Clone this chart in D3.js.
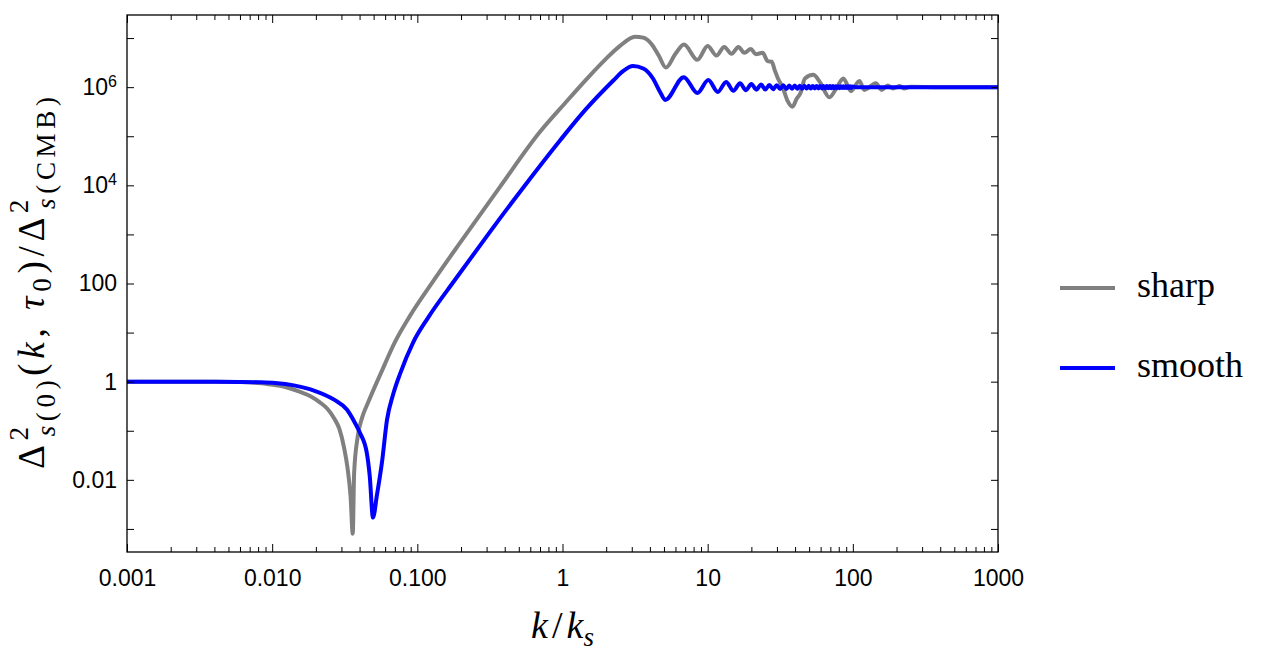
<!DOCTYPE html>
<html>
<head>
<meta charset="utf-8">
<script src="https://cdn.jsdelivr.net/npm/d3@7"></script>
<style>
body { margin: 0; background: #fff; }
.axis .domain { display: none; }
.axis line { stroke: #000; stroke-width: 1; }
.axis text { font-family: "Liberation Sans", Arial, sans-serif; font-size: 23px; fill: #000; }
.serif { font-family: "Liberation Serif", "Times New Roman", serif; fill: #000; }
</style>
</head>
<body>
<div class="app"></div>
<script>
'use strict'

var width = 1264;
var height = 662;
var plot = {left: 127, right: 998, top: 15, bottom: 552};

// sharp transition
var kSharp = [0.001, 0.002, 0.004, 0.006, 0.008, 0.0097, 0.0125, 0.0156, 0.0185, 0.0213,
	0.024, 0.0267, 0.029, 0.0313, 0.033, 0.0347, 0.0359, 0.0367, 0.0388, 0.0416,
	0.0457, 0.0562, 0.0702, 0.089, 0.1262, 0.1967, 0.371, 0.70, 1.04, 1.45,
	1.96, 2.49, 3.16, 3.6, 4.1, 4.6, 5.16, 6.0, 6.87, 8.5,
	10.0, 11.5, 13.0, 14.6, 16.3, 17.9, 19.8, 21.5, 23.9, 25.9,
	27.6, 29.0, 30.5, 32.9, 35.6, 38.4, 41.0, 43.5, 46.8, 53.4,
	59.5, 69, 77, 86, 97, 111, 120, 144, 158, 174,
	189, 211, 225, 250, 400, 1000];
var sharpVals = [1.0, 1.0, 0.995, 0.98, 0.94, 0.88, 0.77, 0.62, 0.50, 0.38,
	0.28, 0.18, 0.11, 0.045, 0.018, 0.0045, 0.0008, 0.0138, 0.075, 0.183,
	0.37, 1.51, 6.47, 21.9, 103, 673, 9310, 1.23e5, 4.7e5, 1.41e6,
	3.6e6, 6.95e6, 1.07e7, 1.02e7, 7.6e6, 4.4e6, 2.5e6, 4.8e6, 7.4e6, 3.6e6,
	6.9e6, 4.4e6, 6.6e6, 4.8e6, 6.6e6, 5.0e6, 6.0e6, 4.7e6, 5.0e6, 3.4e6,
	3.3e6, 2.2e6, 1.5e6, 9.8e5, 5.2e5, 4.0e5, 5.8e5, 7.5e5, 1.5e6, 1.78e6,
	1.25e6, 6.2e5, 9.5e5, 1.5e6, 8.3e5, 1.33e6, 8.8e5, 1.2e6, 8.8e5, 1.08e6,
	9.4e5, 1.05e6, 9.4e5, 1.02e6, 1.0e6, 1.0e6];

// smooth transition
var kSmooth = [0.001, 0.002, 0.004, 0.006, 0.008, 0.0105, 0.0141, 0.0194, 0.0267, 0.0327,
	0.0365, 0.0403, 0.0449, 0.047, 0.0495, 0.0527, 0.0571, 0.0618, 0.068, 0.076,
	0.0933, 0.1184, 0.1818, 0.3166, 0.578, 0.961, 1.43, 2.23, 2.6, 3.06,
	3.6, 4.2, 4.7, 5.1, 6.85, 8.5, 10.1, 11.75, 13.4, 15.05,
	16.7, 18.35, 20.0, 21.65, 23.3, 24.95, 26.6, 28.25, 29.9, 31.55,
	33.2, 34.85, 36.5, 38.15, 39.8, 41.45, 43.1, 44.75, 46.4, 48.05,
	49.7, 51.35, 53.0, 54.65, 56.3, 57.95, 59.6, 61.25, 62.9, 64.55,
	66.2, 67.85, 69.5, 71.15, 72.8, 74.45, 76.1, 77.75, 79.4, 81.05,
	82.7, 84.35, 86.0, 87.65, 89.3, 90.95, 92.6, 94.25, 95.9, 97.55,
	99.2, 105, 1000];
var smoothVals = [1.0, 1.0, 0.997, 0.99, 0.975, 0.94, 0.84, 0.66, 0.43, 0.27,
	0.16, 0.09, 0.035, 0.012, 0.0017, 0.00495, 0.023, 0.167, 0.54, 1.44,
	6.2, 20, 119, 1130, 1.2e4, 8.2e4, 3.4e5, 1.35e6, 2.1e6, 2.7e6,
	2.4e6, 1.5e6, 8.0e5, 5.5e5, 1.6e6, 7.6e5, 1.4e6, 8.0e5, 1.28e6, 8.4e5,
	1.2e6, 8.7e5, 1.16e6, 8.9e5, 1.13e6, 9.0e5, 1.11e6, 9.1e5, 1.10e6, 9.15e5,
	1.09e6, 9.2e5, 1.08e6, 9.25e5, 1.08e6, 9.3e5, 1.07e6, 9.3e5, 1.07e6, 9.35e5,
	1.07e6, 9.35e5, 1.06e6, 9.4e5, 1.06e6, 9.4e5, 1.06e6, 9.4e5, 1.06e6, 9.4e5,
	1.05e6, 9.45e5, 1.05e6, 9.5e5, 1.05e6, 9.5e5, 1.045e6, 9.55e5, 1.045e6, 9.55e5,
	1.04e6, 9.6e5, 1.04e6, 9.6e5, 1.04e6, 9.6e5, 1.04e6, 9.6e5, 1.04e6, 9.65e5,
	1.035e6, 1.0e6, 1.0e6];

var seriesNames = ["sharp", "smooth"];
var seriesColors = ["#808080", "#0000ff"];

var xTickValues = [0.001, 0.01, 0.1, 1, 10, 100, 1000];
var xTickLabels = ["0.001", "0.010", "0.100", "1", "10", "100", "1000"];
var yTickValues = [1e-3, 1e-2, 1e-1, 1, 10, 100, 1e3, 1e4, 1e5, 1e6, 1e7];
var yTickLabels = ["", "0.01", "", "1", "", "100", "", "10^4", "", "10^6", ""];

var svg = d3.select(".app")
	.append("svg")
	.attr("width", width)
	.attr("height", height);

var x = d3.scaleLog()
	.domain([1e-3, 1e3])
	.range([plot.left, plot.right]);

var y = d3.scaleLog()
	.domain([Math.pow(10, -3.47), Math.pow(10, 7.47)])
	.range([plot.bottom, plot.top]);

// minor ticks 2..9 in every decade of x
var xMinor = [];
for (var e = -3; e < 3; e++)
	for (var m = 2; m < 10; m++)
		xMinor.push(m * Math.pow(10, e));

var plotW = plot.right - plot.left;
var plotH = plot.bottom - plot.top;

// clip for the curves
svg.append("clipPath").attr("id", "clip")
	.append("rect")
	.attr("x", plot.left).attr("y", plot.top)
	.attr("width", plotW).attr("height", plotH);

var line = d3.line()
	.curve(d3.curveMonotoneX)
	.x(function(d) { return x(d[0]); })
	.y(function(d) { return y(d[1]); });

var sharpData = kSharp.map(function(k, i) { return [k, sharpVals[i]]; });
var smoothData = kSmooth.map(function(k, i) { return [k, smoothVals[i]]; });

var curves = svg.append("g").attr("clip-path", "url(#clip)");
curves.append("path")
	.attr("d", line(sharpData))
	.attr("fill", "none")
	.attr("stroke", seriesColors[0])
	.attr("stroke-width", 4);
curves.append("path")
	.attr("d", line(smoothData))
	.attr("fill", "none")
	.attr("stroke", seriesColors[1])
	.attr("stroke-width", 4);

// bottom axis
svg.append("g")
	.attr("class", "axis")
	.attr("transform", "translate(0," + plot.bottom + ")")
	.call(d3.axisBottom(x).tickValues(xTickValues).tickSize(-8).tickPadding(18)
		.tickFormat(function(d, i) { return xTickLabels[i]; }));
svg.append("g")
	.attr("class", "axis")
	.attr("transform", "translate(0," + plot.bottom + ")")
	.call(d3.axisBottom(x).tickValues(xMinor).tickSize(-5).tickFormat(""));

// top axis
svg.append("g")
	.attr("class", "axis")
	.attr("transform", "translate(0," + plot.top + ")")
	.call(d3.axisTop(x).tickValues(xTickValues).tickSize(-8).tickFormat(""));
svg.append("g")
	.attr("class", "axis")
	.attr("transform", "translate(0," + plot.top + ")")
	.call(d3.axisTop(x).tickValues(xMinor).tickSize(-5).tickFormat(""));

// left axis
var yAxisG = svg.append("g")
	.attr("class", "axis")
	.attr("transform", "translate(" + plot.left + ",0)")
	.call(d3.axisLeft(y).tickValues(yTickValues).tickSize(-7).tickPadding(10)
		.tickFormat(function(d, i) { return yTickLabels[i]; }));

// superscripts for 10^n
yAxisG.selectAll(".tick text").each(function() {
	var t = d3.select(this);
	var s = t.text();
	if (s.indexOf("^") > -1) {
		var parts = s.split("^");
		t.text(parts[0]);
		t.append("tspan")
			.attr("dy", "-0.5em")
			.style("font-size", "16px")
			.text(parts[1]);
	}
});

// right axis
svg.append("g")
	.attr("class", "axis")
	.attr("transform", "translate(" + plot.right + ",0)")
	.call(d3.axisRight(y).tickValues(yTickValues).tickSize(-7).tickFormat(""));

// frame
svg.append("rect")
	.attr("x", plot.left).attr("y", plot.top)
	.attr("width", plotW).attr("height", plotH)
	.attr("fill", "none")
	.attr("stroke", "#000")
	.attr("stroke-width", 1.3);

// x label  k/k_s
var xl = svg.append("text")
	.attr("class", "serif")
	.attr("x", (plot.left + plot.right) / 2)
	.attr("y", 638)
	.attr("text-anchor", "middle")
	.style("font-size", "38px");
xl.append("tspan").style("font-style", "italic").text("k");
xl.append("tspan").attr("dx", 4).text("/");
xl.append("tspan").attr("dx", 4).style("font-style", "italic").text("k");
xl.append("tspan").attr("dy", 8).style("font-size", "27px").style("font-style", "italic").text("s");

// y label
var yl = svg.append("text")
	.attr("class", "serif")
	.attr("transform", "translate(44,283) rotate(-90)")
	.attr("text-anchor", "middle")
	.attr("textLength", 372)
	.attr("lengthAdjust", "spacing")
	.style("font-size", "37px");
yl.append("tspan").text("\u0394");
yl.append("tspan").attr("dy", -16).style("font-size", "27px").text("2");
yl.append("tspan").attr("dx", -14).attr("dy", 27).style("font-size", "27px")
	.html('<tspan font-style="italic">s</tspan>(0)');
yl.append("tspan").attr("dy", -11).text("(");
yl.append("tspan").style("font-style", "italic").text("k");
yl.append("tspan").text(", ");
yl.append("tspan").style("font-style", "italic").text("\u03C4");
yl.append("tspan").attr("dy", 7).style("font-size", "27px").text("0");
yl.append("tspan").attr("dy", -7).text(")/\u0394");
yl.append("tspan").attr("dy", -16).style("font-size", "27px").text("2");
yl.append("tspan").attr("dx", -14).attr("dy", 27).style("font-size", "27px")
	.html('<tspan font-style="italic">s</tspan>(CMB)');

// legend
var legend = svg.append("g");
seriesNames.forEach(function(name, i) {
	var ly = 288 + i * 80;
	legend.append("line")
		.attr("x1", 1060).attr("x2", 1115)
		.attr("y1", ly).attr("y2", ly)
		.attr("stroke", seriesColors[i])
		.attr("stroke-width", 4);
	legend.append("text")
		.attr("class", "serif")
		.attr("x", 1137)
		.attr("y", ly + 9)
		.style("font-size", "36px")
		.text(name);
});
</script>
</body>
</html>
